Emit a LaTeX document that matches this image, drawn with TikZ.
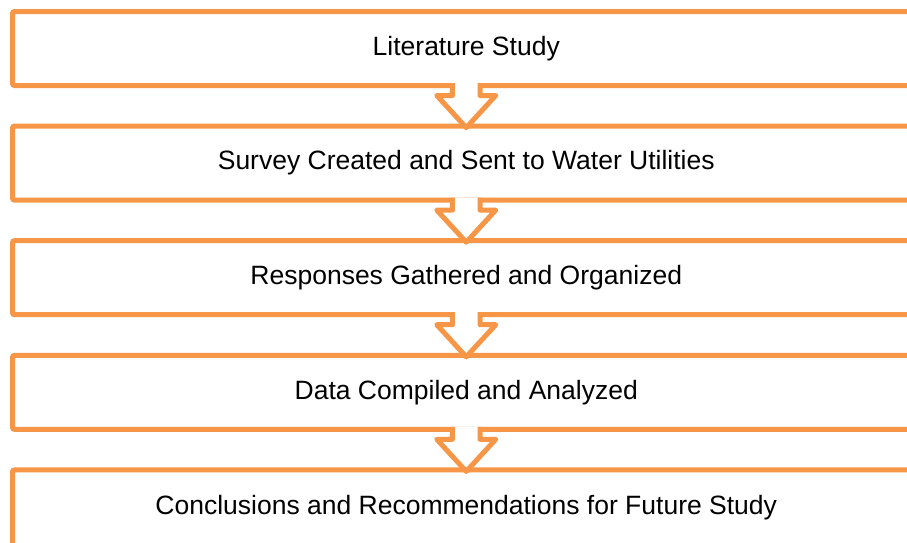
\documentclass[tikz,border=0pt]{standalone}
\usepackage{fontspec}
\setmainfont{Liberation Sans}
\definecolor{boxorange}{HTML}{F79646}
\begin{document}
\begin{tikzpicture}[x=1pt,y=-1pt,
  stagebox/.style={draw=boxorange, line width=5pt, rounded corners=2pt, fill=white,
    minimum width=907.5pt, minimum height=74pt, inner sep=0pt, outer sep=0pt,
    font=\fontsize{26.5}{30}\selectfont, text=black},
  flowarrow/.style={draw=boxorange, line width=5pt, line join=round, line cap=butt},
  flowfill/.style={fill=white}]
\useasboundingbox (0,0) rectangle (907,542);
\clip (0,0) rectangle (907,542);
\node[stagebox] (b1) at (466.25,48.5) {Literature Study};
\node[stagebox] (b2) at (466.25,163.1) {Survey Created and Sent to Water Utilities};
\node[stagebox] (b3) at (466.25,277.7) {Responses Gathered and Organized};
\node[stagebox] (b4) at (466.25,392.3) {Data Compiled and Analyzed};
\node[stagebox, minimum height=76pt] (b5) at (466.25,507.9) {Conclusions and Recommendations for Future Study};
\foreach \a/\b in {b1/b2,b2/b3,b3/b4,b4/b5}{
  \fill[flowfill] ([shift={(-13.8,-2.5)}]\a.south) -- ([shift={(-13.8,10)}]\a.south)
    -- ([shift={(-29.5,10)}]\a.south) -- ([shift={(0,1.5)}]\b.north)
    -- ([shift={(29.5,10)}]\a.south) -- ([shift={(13.8,10)}]\a.south)
    -- ([shift={(13.8,-2.5)}]\a.south) -- cycle;
  \draw[flowarrow] ([shift={(-13.8,-2.5)}]\a.south) -- ([shift={(-13.8,10)}]\a.south)
    -- ([shift={(-29.5,10)}]\a.south) -- ([shift={(0,1.5)}]\b.north)
    -- ([shift={(29.5,10)}]\a.south) -- ([shift={(13.8,10)}]\a.south)
    -- ([shift={(13.8,-2.5)}]\a.south);
}
\end{tikzpicture}
\end{document}
